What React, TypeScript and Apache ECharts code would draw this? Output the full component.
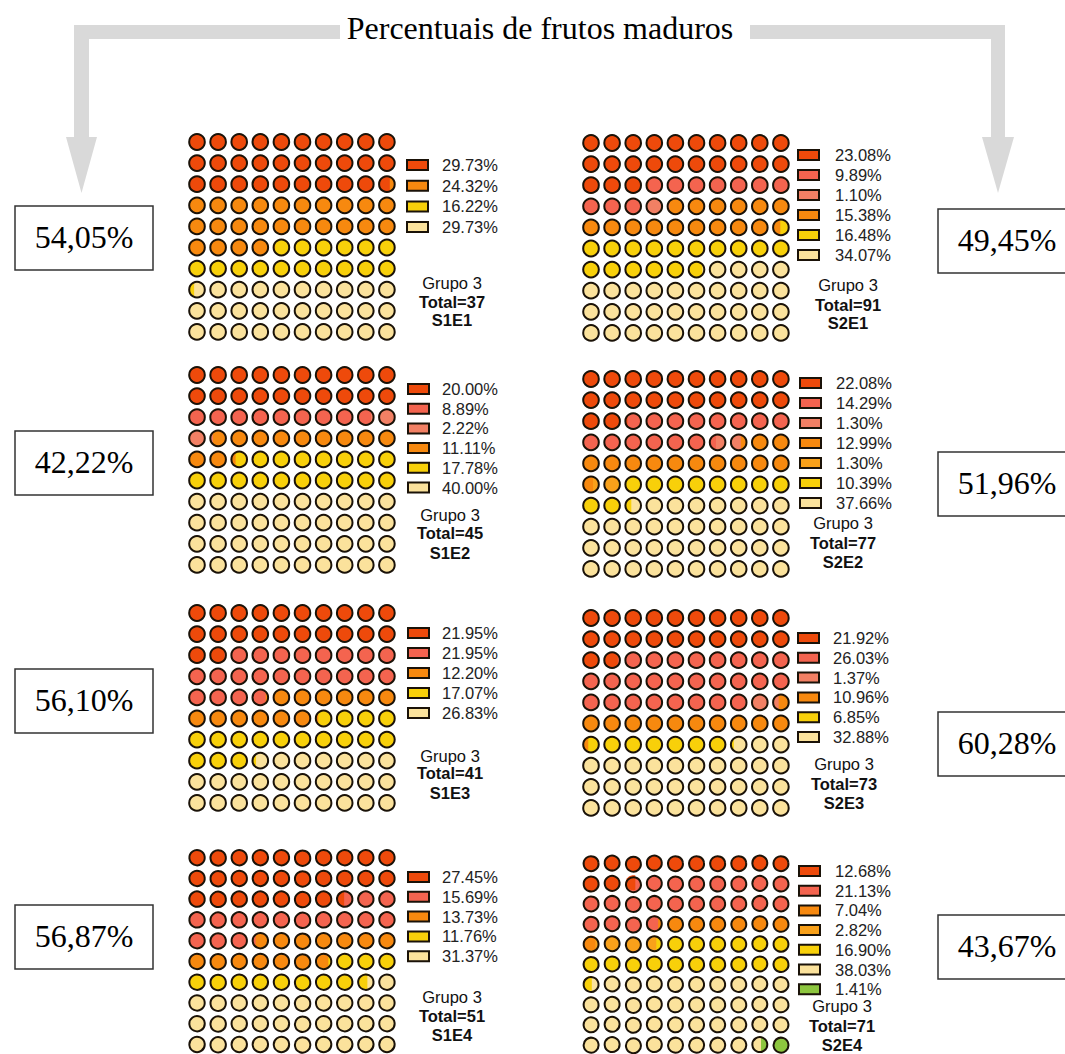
import React, { useEffect, useRef } from "react";
import * as echarts from "echarts";

// ---------- DATA ----------
const titleText = "Percentuais de frutos maduros";
const groupLabel = "Grupo 3";
const panelIds = ["S1E1", "S2E1", "S1E2", "S2E2", "S1E3", "S2E3", "S1E4", "S2E4"];
const totals = [37, 91, 45, 77, 41, 73, 51, 71];
const matureLabels = ["54,05%", "49,45%", "42,22%", "51,96%", "56,10%", "60,28%", "56,87%", "43,67%"];

const s1e1Pct = [29.73, 24.32, 16.22, 29.73];
const s1e1Cls = ["red", "orange", "yellow", "pale"];
const s2e1Pct = [23.08, 9.89, 1.1, 15.38, 16.48, 34.07];
const s2e1Cls = ["red", "salmon", "lightSalmon", "orange", "yellow", "pale"];
const s1e2Pct = [20.0, 8.89, 2.22, 11.11, 17.78, 40.0];
const s1e2Cls = ["red", "salmon", "lightSalmon", "orange", "yellow", "pale"];
const s2e2Pct = [22.08, 14.29, 1.3, 12.99, 1.3, 10.39, 37.66];
const s2e2Cls = ["red", "salmon", "lightSalmon", "orange", "lightOrange", "yellow", "pale"];
const s1e3Pct = [21.95, 21.95, 12.2, 17.07, 26.83];
const s1e3Cls = ["red", "salmon", "orange", "yellow", "pale"];
const s2e3Pct = [21.92, 26.03, 1.37, 10.96, 6.85, 32.88];
const s2e3Cls = ["red", "salmon", "lightSalmon", "orange", "yellow", "pale"];
const s1e4Pct = [27.45, 15.69, 13.73, 11.76, 31.37];
const s1e4Cls = ["red", "salmon", "orange", "yellow", "pale"];
const s2e4Pct = [12.68, 21.13, 7.04, 2.82, 16.9, 38.03, 1.41];
const s2e4Cls = ["red", "salmon", "orange", "lightOrange", "yellow", "pale", "green"];

const panelPcts = [s1e1Pct, s2e1Pct, s1e2Pct, s2e2Pct, s1e3Pct, s2e3Pct, s1e4Pct, s2e4Pct];
const panelCls = [s1e1Cls, s2e1Cls, s1e2Cls, s2e2Cls, s1e3Cls, s2e3Cls, s1e4Cls, s2e4Cls];

// ---------- STYLE ----------
const COLORS: Record<string, string> = {
  red: "#EE4A0B",
  salmon: "#F4644F",
  lightSalmon: "#F28064",
  orange: "#F7890F",
  lightOrange: "#F9A11A",
  yellow: "#F8D00A",
  pale: "#FBE29C",
  green: "#8DC63F",
};
const STROKE = "#1a1208";
const PITCH = 21.1;

// ---------- LAYOUT ----------
const layout = [
  { gx: 186.45, gy: 131.45, legX: 407, legY0: 165, legStep: 20.7, textX: 442, infoX: 452, infoY: [283, 302, 320], bx: 15, by: 206 },
  { gx: 580.45, gy: 132.45, legX: 798, legY0: 155, legStep: 20, textX: 835, infoX: 848, infoY: [285, 305, 323], bx: 938, by: 209 },
  { gx: 186.45, gy: 364.45, legX: 408, legY0: 389, legStep: 19.7, textX: 442, infoX: 450, infoY: [515, 533, 553], bx: 15, by: 431 },
  { gx: 580.45, gy: 368.45, legX: 800, legY0: 383, legStep: 20, textX: 836, infoX: 843, infoY: [523, 543, 562], bx: 938, by: 452 },
  { gx: 186.45, gy: 602.45, legX: 408, legY0: 633, legStep: 20, textX: 442, infoX: 450, infoY: [756, 773, 793], bx: 15, by: 669 },
  { gx: 580.45, gy: 607.45, legX: 798, legY0: 638, legStep: 19.8, textX: 833, infoX: 844, infoY: [764, 784, 803], bx: 938, by: 712 },
  { gx: 186.45, gy: 846.45, legX: 408, legY0: 877, legStep: 19.8, textX: 442, infoX: 452, infoY: [997, 1016, 1035], bx: 15, by: 905 },
  { gx: 580.45, gy: 852.45, legX: 799, legY0: 871, legStep: 19.7, textX: 835, infoX: 842, infoY: [1006, 1026, 1045], bx: 938, by: 915 },
];

// Build the 100 waffle cells of a panel from its percentages
function buildCells(pcts: number[], cls: string[]) {
  const cum: number[] = [];
  let acc = 0;
  pcts.forEach((p) => {
    cum.push(acc);
    acc += p;
  });
  const cells: any[] = [];
  for (let k = 0; k < 100; k++) {
    const lo = k, hi = k + 1;
    const parts: { i: number; a: number }[] = [];
    pcts.forEach((p, i) => {
      const s = cum[i], e = cum[i] + p;
      const ov = Math.min(hi, e) - Math.max(lo, s);
      if (ov > 0.0001) parts.push({ i, a: ov });
    });
    if (parts.length === 0) parts.push({ i: pcts.length - 1, a: 1 });
    let chosen = parts;
    if (parts.length > 2) {
      chosen = [...parts].sort((x, y) => y.a - x.a).slice(0, 2).sort((x, y) => x.i - y.i);
    }
    const A = chosen[0];
    const B = chosen.length > 1 ? chosen[1] : chosen[0];
    const f = chosen.length > 1 ? A.a / (A.a + B.a) : 1;
    cells.push([(k % 10) + 0.5, Math.floor(k / 10) + 0.5, COLORS[cls[A.i]], COLORS[cls[B.i]], f]);
  }
  return cells;
}

// find t in [-1,1] so that circle area with x<t*r equals fraction f
function cutFor(f: number) {
  let lo = -1, hi = 1;
  for (let n = 0; n < 40; n++) {
    const t = (lo + hi) / 2;
    const F = (Math.acos(-t) + t * Math.sqrt(1 - t * t)) / Math.PI;
    if (F < f) lo = t;
    else hi = t;
  }
  return (lo + hi) / 2;
}

function renderCell(params: any, api: any) {
  const c = api.coord([api.value(0), api.value(1)]);
  const size = api.size([1, 1]);
  const r = Math.min(size[0], size[1]) * 0.37;
  const colA = api.value(2);
  const colB = api.value(3);
  const f = api.value(4);
  const children: any[] = [];
  if (f >= 0.999) {
    children.push({ type: "circle", shape: { cx: c[0], cy: c[1], r }, style: { fill: colA, stroke: STROKE, lineWidth: 2 } });
  } else {
    children.push({ type: "circle", shape: { cx: c[0], cy: c[1], r }, style: { fill: colB } });
    const t = cutFor(f);
    const a0 = Math.acos(t);
    const pts: number[][] = [];
    const N = 30;
    for (let n = 0; n <= N; n++) {
      const th = a0 + ((2 * Math.PI - 2 * a0) * n) / N;
      pts.push([c[0] + r * Math.cos(th), c[1] + r * Math.sin(th)]);
    }
    children.push({ type: "polygon", shape: { points: pts }, style: { fill: colA } });
    children.push({ type: "circle", shape: { cx: c[0], cy: c[1], r }, style: { fill: "none", stroke: STROKE, lineWidth: 2 } });
  }
  return { type: "group", children };
}

function buildOption() {
  const grids: any[] = [];
  const xAxes: any[] = [];
  const yAxes: any[] = [];
  const series: any[] = [];
  const graphics: any[] = [];

  // arrows
  graphics.push({
    type: "polygon",
    shape: { points: [[340, 25], [74, 25], [74, 137], [66, 137], [81.5, 193], [97, 137], [89, 137], [89, 39], [340, 39]] },
    style: { fill: "#D9D9D9" },
  });
  graphics.push({
    type: "polygon",
    shape: { points: [[750, 25], [1005, 25], [1005, 137], [1014, 137], [998, 193], [982, 137], [991, 137], [991, 39], [750, 39]] },
    style: { fill: "#D9D9D9" },
  });
  graphics.push({
    type: "text",
    x: 540,
    y: 28,
    style: { text: titleText, font: "32px 'Liberation Serif', 'Times New Roman', serif", fill: "#000", align: "center", verticalAlign: "middle" },
  });

  panelIds.forEach((id, p) => {
    const L = layout[p];
    grids.push({ left: L.gx, top: L.gy, width: PITCH * 10, height: PITCH * 10, containLabel: false });
    xAxes.push({ type: "value", gridIndex: p, min: 0, max: 10, show: false });
    yAxes.push({ type: "value", gridIndex: p, min: 0, max: 10, inverse: true, show: false });
    series.push({
      type: "custom",
      name: id,
      xAxisIndex: p,
      yAxisIndex: p,
      renderItem: renderCell,
      data: buildCells(panelPcts[p], panelCls[p]),
      clip: false,
    });

    // legend
    panelPcts[p].forEach((v, i) => {
      const y = L.legY0 + i * L.legStep;
      graphics.push({
        type: "rect",
        shape: { x: L.legX, y: y - 5, width: 21, height: 10 },
        style: { fill: COLORS[panelCls[p][i]], stroke: STROKE, lineWidth: 2 },
      });
      graphics.push({
        type: "text",
        x: L.textX,
        y,
        style: { text: v.toFixed(2) + "%", font: "16.5px 'Liberation Sans', Arial, sans-serif", fill: "#222", align: "left", verticalAlign: "middle" },
      });
    });

    // info text
    const lines = [groupLabel, "Total=" + totals[p], id];
    lines.forEach((s, i) => {
      graphics.push({
        type: "text",
        x: L.infoX,
        y: L.infoY[i],
        style: {
          text: s,
          font: (i === 0 ? "" : "bold ") + "16.5px 'Liberation Sans', Arial, sans-serif",
          fill: "#111",
          align: "center",
          verticalAlign: "middle",
        },
      });
    });

    // mature-fruit box
    graphics.push({
      type: "rect",
      shape: { x: L.bx, y: L.by, width: 138, height: 64 },
      style: { fill: "#fff", stroke: "#333", lineWidth: 1.5 },
    });
    graphics.push({
      type: "text",
      x: L.bx + 69,
      y: L.by + 31,
      style: { text: matureLabels[p], font: "32px 'Liberation Serif', 'Times New Roman', serif", fill: "#000", align: "center", verticalAlign: "middle" },
    });
  });

  return {
    animation: false,
    backgroundColor: "#ffffff",
    grid: grids,
    xAxis: xAxes,
    yAxis: yAxes,
    series,
    graphic: { elements: graphics },
  };
}

export default function App() {
  const ref = useRef<HTMLDivElement>(null);
  useEffect(() => {
    if (!ref.current) return;
    const chart = echarts.init(ref.current, null, { renderer: "svg" });
    chart.setOption(buildOption() as any);
    return () => chart.dispose();
  }, []);
  return <div ref={ref} style={{ position: "absolute", left: 0, top: 0, width: 1065, height: 1054 }} />;
}
